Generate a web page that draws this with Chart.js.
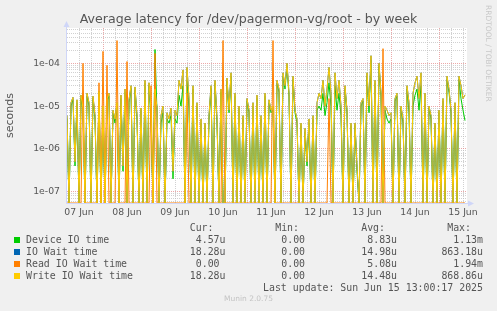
<!DOCTYPE html>
<html><head><meta charset="utf-8">
<script src="https://cdn.jsdelivr.net/npm/chart.js@4.4.1/dist/chart.umd.min.js"></script>
<style>
html,body{margin:0;padding:0;background:#F0F0F0;}
#wrap{position:relative;width:497px;height:311px;overflow:hidden;background:#F0F0F0;}
#c{position:absolute;left:0;top:0;}
.m{position:absolute;white-space:pre;font-family:'DejaVu Sans Mono',monospace;font-size:9.9px;line-height:12px;color:#555;}
.r{text-align:right;}
.sq{position:absolute;width:6px;height:6px;}
#title{position:absolute;left:0;width:497px;top:11px;text-align:center;font-family:'DejaVu Sans',sans-serif;font-size:12.6px;line-height:16px;color:#555;}
#munin{position:absolute;left:0;width:497px;top:293px;text-align:center;font-family:'DejaVu Sans',sans-serif;font-size:7.5px;line-height:12px;color:#c4c4c4;}
#rrd{position:absolute;left:484px;top:5px;writing-mode:vertical-rl;font-family:'DejaVu Sans',sans-serif;font-size:7.5px;color:#c8c8c8;white-space:pre;}
</style></head>
<body><div id="wrap"><canvas id="c" width="497" height="311"></canvas>
<div id="title">Average latency for /dev/pagermon-vg/root - by week</div>
<div id="rrd">RRDTOOL / TOBI OETIKER</div>
<div id="munin">Munin 2.0.75</div>
</div>
<script>
// time axis: one value per hour, starting 07 Jun 06:00
const xTickLabels = ['07 Jun','08 Jun','09 Jun','10 Jun','11 Jun','12 Jun','13 Jun','14 Jun','15 Jun'];
const yTickLabels = ['1e-07','1e-06','1e-05','1e-04'];
const yTickValues = [1e-7,1e-6,1e-5,1e-4];
const yMin = 5.44e-8, yMax = 6.68e-4;

// values in microseconds
const deviceIO = [
5,0,10,14,0.4,12,0,15,8,0,17,10,0,15,5,0,19,0,9,0,13,17,0,7,
4,10,0,15,0.3,21,0,12,26,0,24,5,0,8,0,34,0,30,6,0,210,7,0,4,
7,0,5,4,6,0.2,5,4,18,10,30,0,40,9,0,25,0,10,0,4,0,3.5,0,5,
26,0,34,4,0,21,0,0,38,7,50,0,17,0,9,0,5,0,13,7,0,10,0,15,
0,5,0,17,0,12,7,8,0,34,21,0,50,25,85,17,0,42,7,4,0,3.5,0,2.5,
0.4,4,0,5,0,8,10,8,20,6,12,35,10,0,30,8,20,6,0,25,7,0,3.5,0,
3.5,0.3,0,10,13,0,50,7,120,0,34,0,85,17,0,8,5,4,5,0,13,17,0,9,
4,0,25,7,0,10,18,25,8,30,0,11,0,9,5,0,3.5,0,7,0,13,0,42,21,
7,0,10,0,42,15,8,4.57];

const ioWait = [
6,0,12,16,0.5,14,0,18,9,0,20,12,0,17,6,0,22,0,10,0,15,20,0,8,
5,12,0,18,0.4,25,0,14,30,0,28,6,0,9,0,40,0,35,8,0,25,9,0,6,
10,0,7,5,9,0.3,8,6,40,25,70,0,80,15,0,30,0,12,0,5,0,4,0,6,
30,0,40,5,0,25,0,0,45,8,60,0,20,0,10,0,6,0,15,8,0,12,0,18,
0,6,0,20,0,14,8,10,0,40,25,0,60,30,100,20,0,50,8,5,0,4,0,3,
0.5,5,0,6,0,12,20,15,40,10,25,80,20,0,60,15,40,10,0,30,8,0,4,0,
4,0.4,0,12,15,0,60,10,150,0,40,0,100,20,0,10,8,6,7,0,15,20,0,10,
5,0,30,12,0,20,35,50,15,60,0,20,0,10,6,0,4,0,8,0,15,0,50,25,
8,0,12,0,50,30,15,18.28];

const readIO = [
0,0,0,0,0,0,0,0,100,0,0,0,0,0,0,0,35,0,190,0,90,0,0,0,
0,340,0,0,0,0,110,0,0,0,0,0,0,0,0,0,0,0,30,0,170,0,0,0,
0,0,0,0,0,0,0,0,0,0,0,0,20,0,0,0,0,0,0,0,0,0,0,0,
0,0,0,0,0,0,340,0,0,0,0,0,0,0,0,0,0,0,0,0,0,0,0,0,
0,0,0,0,0,0,0,340,0,0,0,0,0,0,0,0,0,0,0,0,0,0,0,0,
0,0,0,0,0,0,0,0,0,0,0,15,0,0,0,0,0,0,0,0,0,0,0,0,
0,0,0,0,0,0,0,0,0,0,0,0,0,0,220,0,0,0,0,0,0,0,0,0,
0,0,0,0,0,0,0,0,0,0,0,0,0,0,0,0,0,0,0,0,0,0,0,0,
0,0,0,0,0,0,0,0];

const writeIO = [
6,0,12,16,0.5,14,0,18,9,0,20,12,0,17,6,0,22,0,10,0,15,20,0,8,
5,12,0,18,0.4,25,0,14,30,0,28,6,0,9,0,40,0,35,8,0,25,9,0,6,
10,0,7,5,9,0.3,8,6,40,25,70,0,80,15,0,30,0,12,0,5,0,4,0,6,
30,0,40,5,0,25,0,0,45,8,60,0,20,0,10,0,6,0,15,8,0,12,0,18,
0,6,0,20,0,14,8,10,0,40,25,0,60,30,100,20,0,50,8,5,0,4,0,3,
0.5,5,0,6,0,12,20,15,40,10,25,80,20,0,60,15,40,10,0,30,8,0,4,0,
4,0.4,0,12,15,0,60,10,150,0,40,0,100,20,0,10,8,6,7,0,15,20,0,10,
5,0,30,12,0,20,35,50,15,60,0,20,0,10,6,0,4,0,8,0,15,0,50,25,
8,0,12,0,50,30,15,18.28];

const seriesNames = ['Device IO time','IO Wait time','Read IO Wait time','Write IO Wait time'];
const seriesColors = ['#00CC00','#0066B3','#FF8000','#FFCC00'];
const curVals = ['4.57u','18.28u','0.00','18.28u'];
const minVals = ['0.00','0.00','0.00','0.00'];
const avgVals = ['8.83u','14.98u','5.08u','14.48u'];
const maxVals = ['1.13m','863.18u','1.94m','868.86u'];
const lastUpdate = 'Last update: Sun Jun 15 13:00:17 2025';

// zero cannot be shown on a log axis: like rrdtool, it is drawn at the bottom edge
const toPts = arr => arr.map((v, i) => ({x: i, y: v > 0 ? v * 1e-6 : yMin}));
const seriesData = [deviceIO, ioWait, readIO, writeIO];

// grid ticks
const xTicks = [];
for (let h = 6; h < 200; h += 6) xTicks.push(h);
const yTicks = [];
for (let e = -8; e <= -4; e++) for (let m = 1; m <= 9; m++) {
  const v = m * Math.pow(10, e);
  if (v >= yMin && v <= yMax) yTicks.push(v);
}
const isDecade = v => yTickValues.some(t => Math.abs(v / t - 1) < 1e-6);

const frame = {
  id: 'frame',
  beforeDraw(c) {
    const a = c.chartArea, x = c.ctx;
    x.save(); x.fillStyle = '#ffffff';
    x.fillRect(a.left, a.top, a.right - a.left, a.bottom - a.top);
    x.restore();
  },
  beforeDatasetsDraw(c) {
    const a = c.chartArea, x = c.ctx;
    x.save(); x.strokeStyle = '#CFD6F8'; x.lineWidth = 1;
    x.beginPath();
    x.moveTo(a.left - 0.5, a.bottom + 0.5); x.lineTo(a.left - 0.5, a.top - 3);
    x.moveTo(a.left - 0.5, a.bottom + 0.5); x.lineTo(a.right + 3, a.bottom + 0.5);
    x.stroke(); x.restore();
  },
  afterDraw(c) {
    const a = c.chartArea, x = c.ctx;
    x.save(); x.fillStyle = '#CFD6F8';
    x.beginPath();
    x.moveTo(a.left - 3.5, a.top - 1); x.lineTo(a.left + 2.5, a.top - 1); x.lineTo(a.left - 0.5, a.top - 7); x.closePath(); x.fill();
    x.beginPath();
    x.moveTo(a.right + 1, a.bottom - 2.5); x.lineTo(a.right + 1, a.bottom + 3.5); x.lineTo(a.right + 7, a.bottom + 0.5); x.closePath(); x.fill();
    x.restore();
  }
};

const order = [3, 2, 1, 0];
new Chart(document.getElementById('c'), {
  type: 'line',
  data: {
    datasets: seriesData.map((d, i) => ({
      label: seriesNames[i], data: toPts(d), borderColor: seriesColors[i],
      borderWidth: 1, pointRadius: 0, tension: 0, order: order[i], fill: false
    }))
  },
  options: {
    responsive: false, animation: false, devicePixelRatio: 1,
    layout: {padding: {left: 0, top: 28, right: 30, bottom: 78}},
    plugins: {legend: {display: false}, tooltip: {enabled: false}, title: {display: false}},
    scales: {
      x: {
        type: 'linear', min: 0, max: 200,
        afterBuildTicks: s => { s.ticks = xTicks.map(v => ({value: v})); },
        afterFit: s => { s.height = 30; },
        ticks: {
          autoSkip: false, maxRotation: 0, padding: 4, color: '#555',
          font: {family: 'DejaVu Sans', size: 9.3},
          callback: v => ((v - 6) % 24 === 0 ? xTickLabels[(v - 6) / 24] : '')
        },
        grid: {
          drawTicks: false, lineWidth: 1,
          color: ctx => (ctx.tick && (ctx.tick.value - 18) % 24 === 0) ? 'rgba(230,140,140,0.75)' : 'rgba(190,190,190,0.7)'
        },
        border: {display: false, dash: [1, 1]}
      },
      y: {
        type: 'logarithmic', min: yMin, max: yMax,
        afterBuildTicks: s => { s.ticks = yTicks.map(v => ({value: v, major: isDecade(v)})); },
        afterFit: s => { s.width = 67; },
        ticks: {
          autoSkip: false, padding: 7, color: '#555',
          font: {family: 'DejaVu Sans', size: 9.3},
          callback: v => { const k = yTickValues.findIndex(t => Math.abs(v / t - 1) < 1e-6); return k >= 0 ? yTickLabels[k] : ''; }
        },
        title: {display: true, text: 'seconds', color: '#555', font: {family: 'DejaVu Sans', size: 11}, padding: {top: 4, bottom: 0}},
        grid: {
          drawTicks: false, lineWidth: 1,
          color: ctx => (ctx.tick && isDecade(ctx.tick.value)) ? 'rgba(230,140,140,0.75)' : 'rgba(190,190,190,0.7)'
        },
        border: {display: false, dash: [1, 1]}
      }
    }
  },
  plugins: [frame]
});

// legend table (text)
const wrap = document.getElementById('wrap');
function addText(txt, cls, css) {
  const d = document.createElement('div'); d.className = cls; d.textContent = txt;
  Object.assign(d.style, css); wrap.appendChild(d); return d;
}
const colRight = [225.5, 311, 397, 483];
const heads = ['Cur:', 'Min:', 'Avg:', 'Max:'];
heads.forEach((h, i) => addText(h, 'm r', {right: (497 - colRight[i] + 12) + 'px', top: (228 - 6) + 'px'}));
const rowY = [240, 252, 264, 276];
const cols = [curVals, minVals, avgVals, maxVals];
seriesNames.forEach((n, r) => {
  const sq = document.createElement('div'); sq.className = 'sq';
  Object.assign(sq.style, {left: '14px', top: (rowY[r] - 3) + 'px', background: seriesColors[r]});
  wrap.appendChild(sq);
  addText(n, 'm', {left: '26px', top: (rowY[r] - 6) + 'px'});
  cols.forEach((col, c) => {
    const v = col[r];
    const s = /[a-zA-Z]$/.test(v) ? v : v + ' ';
    addText(s, 'm r', {right: (497 - colRight[c]) + 'px', top: (rowY[r] - 6) + 'px'});
  });
});
addText(lastUpdate, 'm r', {right: (497 - 483) + 'px', top: (288 - 6) + 'px'});
</script>
</body></html>
